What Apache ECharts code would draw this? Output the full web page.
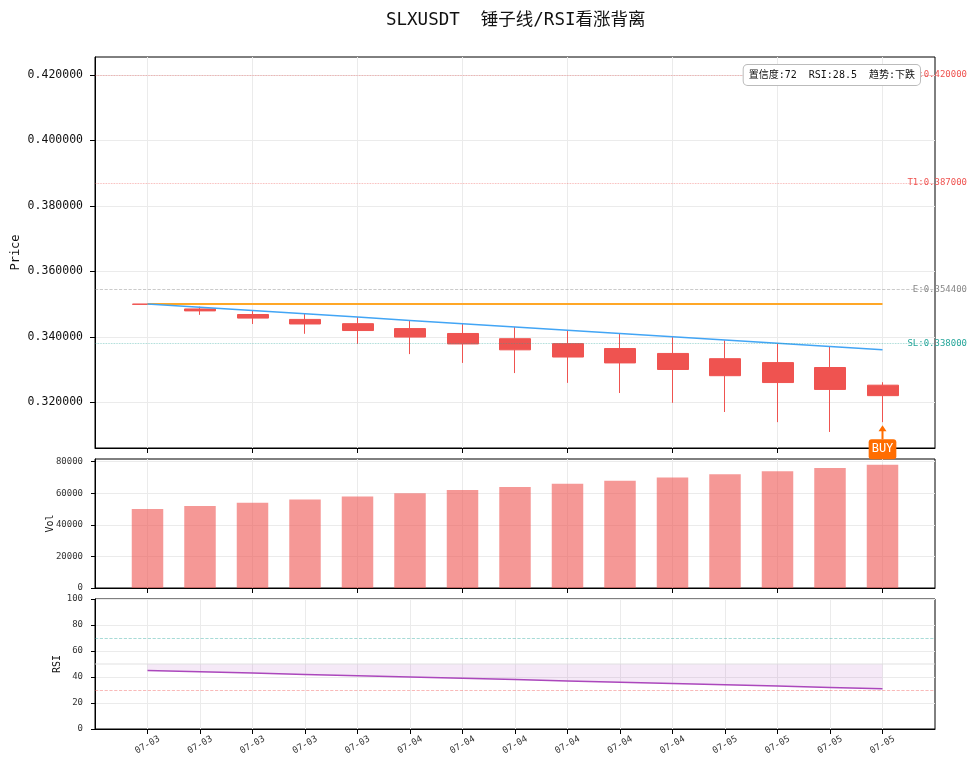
<!DOCTYPE html>
<html>
<head>
<meta charset="UTF-8">
<title>SLXUSDT 锤子线/RSI看涨背离</title>
<script src="https://cdn.jsdelivr.net/npm/echarts@6/dist/echarts.min.js"></script>
<style>
	html, body { margin: 0; padding: 0; background: #fff; }
	#main { width: 976px; height: 770px; }
</style>
</head>
<body>
<div id="main"></div>
<script>
// ---- data ----
var dates   = ['07-03','07-03','07-03','07-03','07-03','07-04','07-04','07-04','07-04','07-04','07-04','07-05','07-05','07-05','07-05'];
var opens   = [0.3500, 0.3485, 0.3468, 0.3453, 0.3440, 0.3425, 0.3410, 0.3394, 0.3379, 0.3364, 0.3349, 0.3333, 0.3321, 0.3306, 0.3252];
var closes  = [0.3499, 0.3479, 0.3457, 0.3439, 0.3419, 0.3399, 0.3378, 0.3360, 0.3338, 0.3320, 0.3300, 0.3281, 0.3260, 0.3239, 0.3220];
var highs   = [0.3500, 0.3492, 0.3480, 0.3470, 0.3460, 0.3448, 0.3439, 0.3430, 0.3420, 0.3410, 0.3402, 0.3389, 0.3379, 0.3369, 0.3261];
var lows    = [0.3499, 0.3467, 0.3439, 0.3409, 0.3378, 0.3347, 0.3320, 0.3289, 0.3259, 0.3228, 0.3198, 0.3170, 0.3139, 0.3109, 0.3139];
var entryLine = [0.350, 0.350, 0.350, 0.350, 0.350, 0.350, 0.350, 0.350, 0.350, 0.350, 0.350, 0.350, 0.350, 0.350, 0.350];
var trendLine = [0.350, 0.349, 0.348, 0.347, 0.346, 0.345, 0.344, 0.343, 0.342, 0.341, 0.340, 0.339, 0.338, 0.337, 0.336];
var volumes = [50000, 52000, 54000, 56000, 58000, 60000, 62000, 64000, 66000, 68000, 70000, 72000, 74000, 76000, 78000];
var rsi     = [45, 44, 43, 42, 41, 40, 39, 38, 37, 36, 35, 34, 33, 32, 31];

var levelNames  = ['T2', 'T1', 'E', 'SL'];
var levelValues = [0.420, 0.387, 0.3544, 0.338];
var levelColors = ['#ef5350', '#ef5350', '#888888', '#26a69a'];
var levelTypes  = ['dotted', 'dotted', 'dashed', 'dotted'];

var priceTicks = [0.32, 0.34, 0.36, 0.38, 0.40, 0.42];
var volTicks   = [0, 20000, 40000, 60000, 80000];
var rsiTicks   = [0, 20, 40, 60, 80, 100];

var infoText = '置信度:72  RSI:28.5  趋势:下跌';

// ---- build ----
var FONT = "'DejaVu Sans Mono', 'Noto Sans CJK SC', monospace";
var chart = echarts.init(document.getElementById('main'));

// one empty slot each side so the candles sit one step in from the frame
var cats = [''].concat(dates, ['']);
function pad(arr) { return ['-'].concat(arr, ['-']); }

var kdata = [['-', '-', '-', '-']];
for (var i = 0; i < dates.length; i++) {
	kdata.push([opens[i], closes[i], lows[i], highs[i]]);
}
kdata.push(['-', '-', '-', '-']);

var rsiGap = [];
for (var i = 0; i < rsi.length; i++) rsiGap.push(50 - rsi[i]);

var evenIdx = function (idx) { return idx >= 1 && idx <= dates.length && (idx - 1) % 2 === 0; };
var allIdx = function (idx) { return idx >= 1 && idx <= dates.length; };

var levelLines = [];
for (var i = 0; i < levelNames.length; i++) {
	levelLines.push({
		name: levelNames[i],
		yAxis: levelValues[i],
		lineStyle: { color: levelColors[i], type: levelTypes[i], width: 0.8, opacity: 0.55 },
		label: { color: levelColors[i], opacity: 1 }
	});
}

var gridLine = { show: true, lineStyle: { color: '#ebebeb', width: 1 } };

function gridAt(top, height) {
	return {
		left: 95, right: 41, top: top, height: height, outerBoundsMode: 'none',
		show: true, borderColor: '#000', borderWidth: 1
	};
}

function xAxisFor(gi, tickFn, showLabel) {
	return {
		type: 'category', gridIndex: gi, data: cats, boundaryGap: false,
		axisLine: { show: true, lineStyle: { color: '#000', width: 1 } },
		axisTick: { show: true, interval: tickFn, length: 5, lineStyle: { color: '#000' } },
		axisLabel: {
			show: showLabel, interval: tickFn, rotate: 30, align: 'center', verticalAlign: 'middle',
			margin: 16, fontSize: 9, color: '#333'
		},
		splitLine: { show: true, interval: tickFn, lineStyle: { color: '#ebebeb' } }
	};
}

var option = {
	animation: false,
	backgroundColor: '#fff',
	textStyle: { fontFamily: FONT },
	title: {
		text: 'SLXUSDT  锤子线/RSI看涨背离',
		left: 381, top: 7,
		textStyle: { fontSize: 17.5, fontWeight: 'normal', color: '#111', fontFamily: FONT }
	},
	grid: [gridAt(57, 391), gridAt(459, 129), gridAt(599, 130)],
	xAxis: [
		xAxisFor(0, evenIdx, false),
		xAxisFor(1, evenIdx, false),
		xAxisFor(2, allIdx, true)
	],
	yAxis: [
		{
			type: 'value', gridIndex: 0, min: 0.306, max: 0.4255,
			name: 'Price', nameLocation: 'middle', nameGap: 73, nameMoveOverlap: false,
			nameTextStyle: { fontSize: 12, color: '#111' },
			axisLine: { show: true, lineStyle: { color: '#000' } },
			axisTick: { show: true, length: 5, customValues: priceTicks, lineStyle: { color: '#000' } },
			axisLabel: {
				customValues: priceTicks, fontSize: 11.5, color: '#111', margin: 12,
				formatter: function (v) { return v.toFixed(6); }
			},
			splitLine: gridLine
		},
		{
			type: 'value', gridIndex: 1, min: 0, max: 81710,
			name: 'Vol', nameLocation: 'middle', nameGap: 40, nameMoveOverlap: false,
			nameTextStyle: { fontSize: 10, color: '#111' },
			axisLine: { show: true, lineStyle: { color: '#000' } },
			axisTick: { show: true, length: 4, customValues: volTicks, lineStyle: { color: '#000' } },
			axisLabel: {
				customValues: volTicks, fontSize: 9, color: '#333', margin: 12,
				formatter: function (v) { return String(v); }
			},
			splitLine: gridLine
		},
		{
			type: 'value', gridIndex: 2, min: 0, max: 100,
			name: 'RSI', nameLocation: 'middle', nameGap: 33, nameMoveOverlap: false,
			nameTextStyle: { fontSize: 10, color: '#111' },
			axisLine: { show: true, lineStyle: { color: '#000' } },
			axisTick: { show: true, length: 4, customValues: rsiTicks, lineStyle: { color: '#000' } },
			axisLabel: { customValues: rsiTicks, fontSize: 9, color: '#333', margin: 12 },
			splitLine: gridLine
		}
	],
	graphic: [{
		type: 'text', right: 55, top: 64, z: 100,
		style: {
			text: infoText, font: '10px ' + FONT, fill: '#111',
			backgroundColor: '#fff', borderColor: '#bbb', borderWidth: 1, borderRadius: 4,
			padding: [5, 5]
		}
	}],
	series: [
		{
			name: 'K', type: 'candlestick', xAxisIndex: 0, yAxisIndex: 0,
			data: kdata, barWidth: '60%',
			itemStyle: {
				color: '#26a69a', color0: '#ef5350',
				borderColor: '#26a69a', borderColor0: '#ef5350', borderWidth: 1
			},
			markLine: {
				silent: true, symbol: ['none', 'none'], precision: 6,
				label: {
					position: 'end', align: 'right', distance: 32, fontSize: 9,
					formatter: function (p) { return p.name + ':' + Number(p.value).toFixed(6); }
				},
				data: levelLines
			},
			markPoint: {
				silent: true,
				symbol: 'path://M4,0 L8,6 L5,6 L5,14 L3,14 L3,6 L0,6 Z',
				symbolSize: [8, 14], symbolOffset: [0, 10],
				itemStyle: { color: '#ff6d00' },
				label: {
					show: true, position: 'bottom', distance: 0, formatter: 'BUY',
					color: '#fff', fontSize: 12, backgroundColor: '#ff6d00',
					borderRadius: 3, padding: [4, 3]
				},
				data: [{ coord: [dates.length, lows[lows.length - 1]] }]
			}
		},
		{
			name: 'entry', type: 'line', xAxisIndex: 0, yAxisIndex: 0,
			data: pad(entryLine), symbol: 'none',
			lineStyle: { color: '#ffa726', width: 2 }
		},
		{
			name: 'trend', type: 'line', xAxisIndex: 0, yAxisIndex: 0,
			data: pad(trendLine), symbol: 'none',
			lineStyle: { color: '#42a5f5', width: 1.5 }
		},
		{
			name: 'Vol', type: 'bar', xAxisIndex: 1, yAxisIndex: 1,
			data: pad(volumes), barWidth: '60%',
			itemStyle: { color: '#ef5350', opacity: 0.6 }
		},
		{
			name: 'rsiBase', type: 'line', xAxisIndex: 2, yAxisIndex: 2,
			data: pad(rsi), stack: 'rsiFill', symbol: 'none',
			lineStyle: { opacity: 0 }
		},
		{
			name: 'rsiFill', type: 'line', xAxisIndex: 2, yAxisIndex: 2,
			data: pad(rsiGap), stack: 'rsiFill', symbol: 'none',
			lineStyle: { opacity: 0 },
			areaStyle: { color: '#ab47bc', opacity: 0.12 }
		},
		{
			name: 'RSI', type: 'line', xAxisIndex: 2, yAxisIndex: 2,
			data: pad(rsi), symbol: 'none',
			lineStyle: { color: '#ab47bc', width: 1.5 },
			markLine: {
				silent: true, symbol: ['none', 'none'], label: { show: false },
				data: [
					{ yAxis: 70, lineStyle: { color: '#26a69a', type: 'dashed', width: 0.8, opacity: 0.5 } },
					{ yAxis: 50, lineStyle: { color: '#dddddd', type: 'solid', width: 1.5, opacity: 0.6 } },
					{ yAxis: 30, lineStyle: { color: '#ef5350', type: 'dashed', width: 0.8, opacity: 0.5 } }
				]
			}
		}
	]
};

chart.setOption(option);
</script>
</body>
</html>
